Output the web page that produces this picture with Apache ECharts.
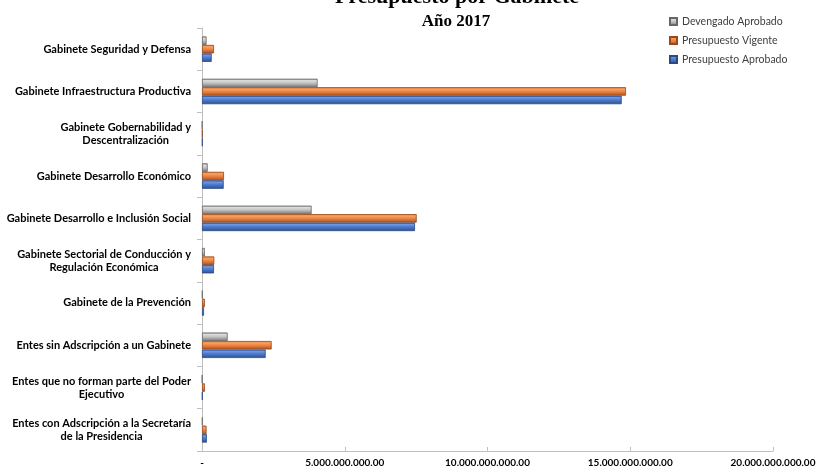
<!DOCTYPE html>
<html>
<head>
<meta charset="utf-8">
<script src="https://cdn.jsdelivr.net/npm/echarts@6/dist/echarts.min.js"></script>
<style>html,body{margin:0;padding:0;background:#fff}#c{width:820px;height:470px}</style>
</head>
<body>
<div id="c"></div>
<script>
var categories = [
  'Gabinete Seguridad y Defensa',
  'Gabinete Infraestructura Productiva',
  'Gabinete Gobernabilidad y\nDescentralización',
  'Gabinete Desarrollo Económico',
  'Gabinete Desarrollo e Inclusión Social',
  'Gabinete Sectorial de Conducción y\nRegulación Económica',
  'Gabinete de la Prevención',
  'Entes sin Adscripción a un Gabinete',
  'Entes que no forman parte del Poder\nEjecutivo',
  'Entes con Adscripción a la Secretaría\nde la Presidencia'
];
var devengadoAprobado   = [160000000, 4050000000, 10000000, 200000000, 3840000000, 100000000, 20000000, 900000000, 10000000, 20000000];
var presupuestoVigente  = [420000000, 14850000000, 20000000, 770000000, 7520000000, 430000000, 100000000, 2440000000, 100000000, 160000000];
var presupuestoAprobado = [340000000, 14700000000, 20000000, 760000000, 7460000000, 420000000, 70000000, 2230000000, 20000000, 170000000];
var tickLabels = ['-', '5.000.000.000.00', '10.000.000.000.00', '15.000.000.000.00', '20.000.000.000.00'];

function grad(stops){
  return new echarts.graphic.LinearGradient(0,0,0,1, stops.map(function(s){return {offset:s[0], color:s[1]};}));
}
var grayFill = grad([[0,'#8e8e8e'],[0.22,'#dcdcdc'],[0.5,'#c4c4c4'],[0.8,'#959595'],[1,'#6e6e6e']]);
var orangeFill = grad([[0,'#d4712f'],[0.22,'#f9a263'],[0.5,'#ef8443'],[0.8,'#c6672b'],[1,'#a0521e']]);
var blueFill = grad([[0,'#3c64ad'],[0.22,'#6f98e2'],[0.5,'#4c7acd'],[0.8,'#3a61a8'],[1,'#2c4c8a']]);

var chart = echarts.init(document.getElementById('c'));
chart.setOption({
  animation: false,
  title: [
    {text: 'Presupuesto por Gabinete', left: 452, textAlign: 'center', top: -19,
     textStyle: {fontFamily: 'Liberation Serif', fontWeight: 'bold', fontSize: 22, color: '#000'}},
    {text: 'Año 2017', left: 451, textAlign: 'center', top: 8,
     textStyle: {fontFamily: 'Liberation Serif', fontWeight: 'bold', fontSize: 17, color: '#000'}}
  ],
  legend: {
    orient: 'vertical', left: 664, top: 11, itemWidth: 7, itemHeight: 7, itemGap: 8, icon: 'rect',
    data: ['Devengado Aprobado', 'Presupuesto Vigente', 'Presupuesto Aprobado'],
    textStyle: {fontFamily: 'Lato', fontSize: 10.5, color: '#404040'}
  },
  grid: {left: 202, right: 47, top: 28, bottom: 19, containLabel: false},
  xAxis: {
    type: 'value', min: 0, max: 20000000000, interval: 5000000000,
    splitLine: {show: false},
    axisLine: {show: true, lineStyle: {color: '#bfbfbf'}},
    axisTick: {show: true, inside: true, length: 4, lineStyle: {color: '#bfbfbf'}},
    axisLabel: {
      margin: 7, fontFamily: 'Lato', fontWeight: 'bold', fontSize: 10, color: '#000',
      formatter: function(v){ return tickLabels[Math.round(v/5000000000)]; }
    }
  },
  yAxis: {
    type: 'category', inverse: true, data: categories,
    axisLine: {show: true, lineStyle: {color: '#bfbfbf'}},
    axisTick: {show: true, length: 5, lineStyle: {color: '#bfbfbf'}},
    axisLabel: {
      margin: 11, fontFamily: 'Lato', fontWeight: 'bold', fontSize: 11, color: '#000', lineHeight: 13,
      formatter: function(v){ return v.split('\n').map(function(l){return '{a|'+l+'}';}).join('\n'); },
      rich: {a: {align: 'center', fontFamily: 'Lato', fontWeight: 'bold', fontSize: 11, color: '#000', lineHeight: 13}}
    }
  },
  series: [
    {name: 'Devengado Aprobado', type: 'bar', data: devengadoAprobado, barWidth: 8.5, barGap: '0%',
     itemStyle: {color: grayFill, borderColor: '#676767', borderWidth: 0.8}},
    {name: 'Presupuesto Vigente', type: 'bar', data: presupuestoVigente, barWidth: 8.5, barGap: '0%',
     itemStyle: {color: orangeFill, borderColor: '#97491a', borderWidth: 0.8}},
    {name: 'Presupuesto Aprobado', type: 'bar', data: presupuestoAprobado, barWidth: 8.5, barGap: '0%',
     itemStyle: {color: blueFill, borderColor: '#2a4a84', borderWidth: 0.8}}
  ]
});
</script>
</body>
</html>
